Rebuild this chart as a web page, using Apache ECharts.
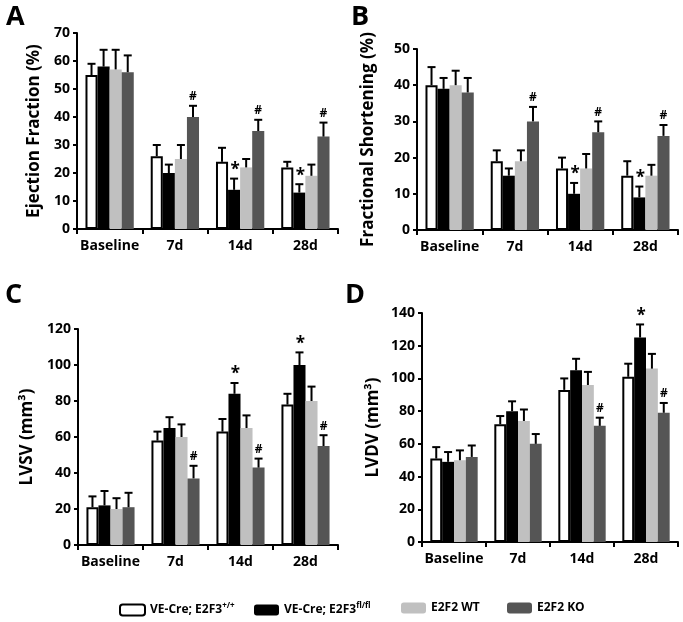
<!DOCTYPE html>
<html><head><meta charset="utf-8">
<script src="https://cdn.jsdelivr.net/npm/echarts@6/dist/echarts.min.js"></script>
<style>html,body{margin:0;padding:0;background:#fff}#c{width:683px;height:622px}</style>
</head><body><div id="c"></div>
<script>
const categories = ['Baseline', '7d', '14d', '28d'];
const seriesNames = ['VE-Cre; E2F3+/+', 'VE-Cre; E2F3fl/fl', 'E2F2 WT', 'E2F2 KO'];
const seriesColors = ['#ffffff', '#000000', '#c0c0c0', '#555555'];

// Panel A: Ejection Fraction (%)
const efMeans = [[55, 26, 24, 22], [58, 20, 14, 13], [57, 25, 22, 19], [56, 40, 35, 33]];
const efErrs  = [[4, 4, 5, 2], [6, 3, 4, 3], [7, 5, 3, 4], [6, 4, 4, 5]];
const efMarks = [['', '', '', ''], ['', '', '*', '*'], ['', '', '', ''], ['', '#', '#', '#']];
const efTicks = [0, 10, 20, 30, 40, 50, 60, 70];

// Panel B: Fractional Shortening (%)
const fsMeans = [[40, 19, 17, 15], [39, 15, 10, 9], [40, 19, 17, 15], [38, 30, 27, 26]];
const fsErrs  = [[5, 3, 3, 4], [3, 2, 3, 3], [4, 3, 4, 3], [4, 4, 3, 3]];
const fsMarks = [['', '', '', ''], ['', '', '*', '*'], ['', '', '', ''], ['', '#', '#', '#']];
const fsTicks = [0, 10, 20, 30, 40, 50];

// Panel C: LVSV (mm3)
const lvsvMeans = [[21, 58, 63, 78], [22, 65, 84, 100], [20, 60, 65, 80], [21, 37, 43, 55]];
const lvsvErrs  = [[6, 5, 7, 6], [8, 6, 6, 7], [6, 7, 7, 8], [8, 7, 5, 6]];
const lvsvMarks = [['', '', '', ''], ['', '', '*', '*'], ['', '', '', ''], ['', '#', '#', '#']];
const lvsvTicks = [0, 20, 40, 60, 80, 100, 120];

// Panel D: LVDV (mm3)
const lvdvMeans = [[51, 72, 93, 101], [49, 80, 105, 125], [50, 74, 96, 106], [52, 60, 71, 79]];
const lvdvErrs  = [[7, 5, 7, 8], [6, 6, 7, 8], [6, 7, 8, 9], [7, 6, 5, 6]];
const lvdvMarks = [['', '', '', ''], ['', '', '', '*'], ['', '', '', ''], ['', '', '#', '#']];
const lvdvTicks = [0, 20, 40, 60, 80, 100, 120, 140];

const FONT = 'Open Sans';
const CAT_GAP = 0.26;

const panels = [
  {letter: 'A', name: 'Ejection Fraction (%)', means: efMeans, errs: efErrs, marks: efMarks, ticks: efTicks,
   grid: {left: 77, top: 33, width: 261, height: 196}, nameGap: 34, lx: 6, ly: 4},
  {letter: 'B', name: 'Fractional Shortening (%)', means: fsMeans, errs: fsErrs, marks: fsMarks, ticks: fsTicks,
   grid: {left: 417, top: 49, width: 261, height: 181}, nameGap: 40, lx: 351, ly: 4},
  {letter: 'C', name: 'LVSV (mm³)', means: lvsvMeans, errs: lvsvErrs, marks: lvsvMarks, ticks: lvsvTicks,
   grid: {left: 78, top: 329, width: 260, height: 216}, nameGap: 42, lx: 5, ly: 282},
  {letter: 'D', name: 'LVDV (mm³)', means: lvdvMeans, errs: lvdvErrs, marks: lvdvMarks, ticks: lvdvTicks,
   grid: {left: 422, top: 313, width: 256, height: 229}, nameGap: 40, lx: 345, ly: 282}
];

const grids = [], xAxes = [], yAxes = [], series = [], graphics = [];
panels.forEach((p, pi) => {
  grids.push(p.grid);
  xAxes.push({
    type: 'category', gridIndex: pi, data: categories,
    axisLine: {lineStyle: {color: '#000', width: 2}},
    axisTick: {show: true, length: 5, lineStyle: {color: '#000', width: 2}},
    axisLabel: {color: '#000', fontFamily: FONT, fontWeight: 'bold', fontSize: 14, margin: 10, interval: 0}
  });
  const tmax = p.ticks[p.ticks.length - 1];
  yAxes.push({
    type: 'value', gridIndex: pi, min: 0, max: tmax, interval: p.ticks[1] - p.ticks[0],
    name: p.name, nameLocation: 'middle', nameGap: p.nameGap,
    nameTextStyle: {color: '#000', fontFamily: FONT, fontWeight: 'bold', fontSize: 17},
    axisLine: {show: true, lineStyle: {color: '#000', width: 2}},
    axisTick: {show: true, length: 4, lineStyle: {color: '#000', width: 2}},
    splitLine: {show: false},
    axisLabel: {color: '#000', fontFamily: FONT, fontWeight: 'bold', fontSize: 14, margin: 7}
  });
  graphics.push({type: 'text', left: p.lx, top: p.ly,
    style: {text: p.letter, font: 'bold 27px "' + FONT + '"', fill: '#000'}});
  seriesNames.forEach((sn, si) => {
    series.push({
      type: 'bar', name: sn, xAxisIndex: pi, yAxisIndex: pi,
      data: p.means[si], barGap: '0%', barCategoryGap: (CAT_GAP * 100) + '%',
      itemStyle: {color: seriesColors[si], borderColor: si === 0 ? '#000' : seriesColors[si], borderWidth: si === 0 ? 2 : 0},
      emphasis: {disabled: true}, animation: false
    });
  });
  seriesNames.forEach((sn, si) => {
    const data = categories.map((c, ci) => [ci, p.means[si][ci], p.errs[si][ci]]);
    series.push({
      type: 'custom', xAxisIndex: pi, yAxisIndex: pi, z: 5, animation: false, silent: true,
      data: data, encode: {x: 0, y: [1]},
      renderItem: function (params, api) {
        const ci = api.value(0), v = api.value(1), e = api.value(2);
        const base = api.coord([ci, v]);
        const top = api.coord([ci, v + e]);
        const band = api.size([1, 0])[0];
        const bw = band * (1 - CAT_GAP) / 4;
        const cx = base[0] - 2 * bw + (si + 0.5) * bw;
        const children = [
          {type: 'line', shape: {x1: cx, y1: base[1], x2: cx, y2: top[1]}, style: {stroke: '#000', lineWidth: 2}},
          {type: 'line', shape: {x1: cx - 4, y1: top[1], x2: cx + 4, y2: top[1]}, style: {stroke: '#000', lineWidth: 2}}
        ];
        const m = p.marks[si][params.dataIndex];
        if (m) {
          children.push({type: 'text', x: cx + (m === '*' ? 1 : 0), y: top[1] - (m === '*' ? 0 : 3),
            style: {text: m, fill: '#000', align: 'center', verticalAlign: 'bottom',
              font: 'bold ' + (m === '*' ? 17 : 12) + 'px "' + FONT + '"'}});
        }
        return {type: 'group', children: children};
      }
    });
  });
});

const legendLabels = [
  '{t|VE-Cre; E2F3}{s|+/+}', '{t|VE-Cre; E2F3}{s|fl/fl}', '{t|E2F2 WT}', '{t|E2F2 KO}'
];
const legendLefts = [114, 249, 396, 502];
const legends = seriesNames.map((sn, i) => ({
  data: [sn], left: legendLefts[i], top: 597, itemWidth: 25, itemHeight: 11, itemGap: 0,
  selectedMode: false,
  formatter: () => legendLabels[i],
  textStyle: {color: '#000', fontFamily: FONT, fontWeight: 'bold', fontSize: 12,
    rich: {t: {fontFamily: FONT, fontWeight: 'bold', fontSize: 12, lineHeight: 16},
           s: {fontFamily: FONT, fontWeight: 'bold', fontSize: 8, lineHeight: 16, verticalAlign: 'top'}}}
}));

const chart = echarts.init(document.getElementById('c'), null, {renderer: 'canvas'});
chart.setOption({
  backgroundColor: '#fff', animation: false,
  grid: grids, xAxis: xAxes, yAxis: yAxes, series: series, legend: legends, graphic: graphics
});
</script></body></html>
